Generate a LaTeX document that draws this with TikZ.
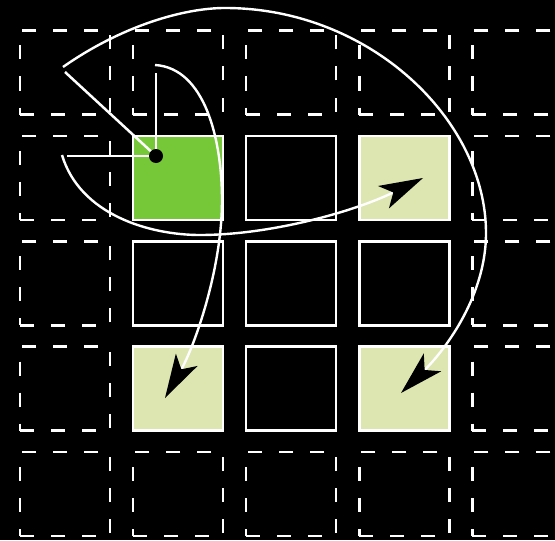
\documentclass[tikz,border=0pt]{standalone}
\usetikzlibrary{arrows.meta}
\definecolor{limeA}{RGB}{118,200,56}
\definecolor{limeB}{RGB}{221,230,176}
\begin{document}
\begin{tikzpicture}[x=0.5pt,y=-0.5pt,
  cellbase/.style={rectangle,draw=white,line width=1.25pt,minimum width=45pt,minimum height=42pt,inner sep=0pt,outer sep=0pt},
  cellsolid/.style={cellbase},
  celldash/.style={cellbase,dash pattern=on 7pt off 8.5pt},
  ray/.style={draw=white,line width=1.25pt},
  move/.style={draw=white,line width=1.2pt,-{Stealth[length=22pt,width=12.5pt,inset=5.5pt,black,line width=0pt]}},
  knot/.style={circle,fill=black,minimum size=7pt,inner sep=0pt}]
\fill[black] (0,0) rectangle (555,540);
\useasboundingbox (0,0) rectangle (555,540);
% cells
\foreach \i in {1,...,5}{
  \foreach \j in {1,...,5}{
    \pgfmathsetmacro{\cx}{65+113.1*(\i-1)}
    \pgfmathsetmacro{\cy}{72.5+105.4*(\j-1)}
    \pgfmathtruncatemacro{\inner}{(\i>1)&&(\i<5)&&(\j>1)&&(\j<5)}
    \ifnum\inner=1
      \node[cellsolid] (c-\i-\j) at (\cx,\cy) {};
    \else
      \node[celldash] (c-\i-\j) at (\cx,\cy) {};
    \fi
  }
}
\node[cellsolid,fill=limeA] at (c-2-2) {};
\node[cellsolid,fill=limeB] at (c-4-2) {};
\node[cellsolid,fill=limeB] at (c-2-4) {};
\node[cellsolid,fill=limeB] at (c-4-4) {};
% rays from the piece
\coordinate (rayA) at (65,72);
\coordinate (rayB) at (67,156);
\coordinate (rayC) at (156,73);
\coordinate (dotc) at (156,156);
\draw[ray] (dotc) -- (rayA);
\draw[ray] (dotc) -- (rayB);
\draw[ray] (dotc) -- (rayC);
\node[knot] (dot) at (dotc) {};
% curved moves
\coordinate (sA) at (63,67);
\coordinate (sB) at (62,155);
\coordinate (sC) at (155,65);
\coordinate (tA) at (401,393);
\coordinate (tB) at (423,178);
\coordinate (tC) at (165,398);
\draw[move] (sA) .. controls (123,25) and (185,8) .. (225,8)
  .. controls (370,8) and (486,120) .. (486,233)
  .. controls (486,300) and (440,355) .. (tA);
\draw[move] (sB) .. controls (80,215) and (150,235) .. (200,235)
  .. controls (270,235) and (353,212) .. (tB);
\draw[move] (sC) .. controls (205,68) and (222,140) .. (222,200)
  .. controls (222,270) and (194,347) .. (tC);
\end{tikzpicture}
\end{document}
